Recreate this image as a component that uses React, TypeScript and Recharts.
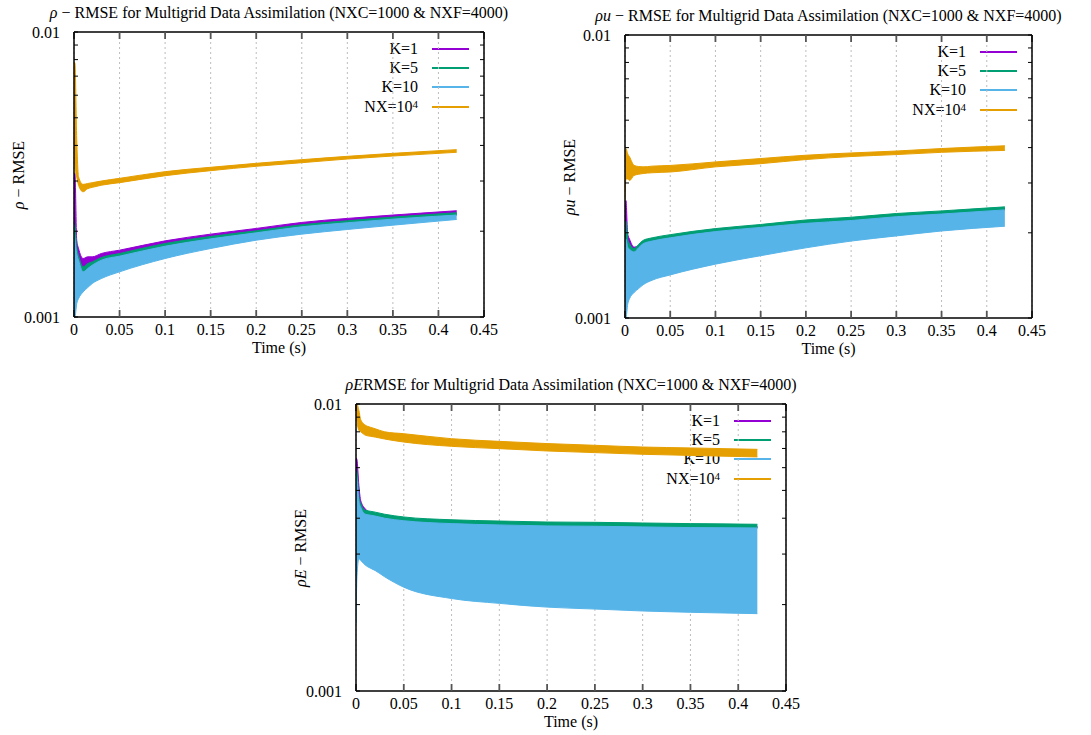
import React from 'react';
import { Area, CartesianGrid, ComposedChart, XAxis, YAxis } from 'recharts';

const FONT = "'Liberation Serif', 'DejaVu Serif', serif";

const PURPLE = '#9400d3';
const GREEN = '#009e73';
const BLUE = '#56b4e9';
const ORANGE = '#e69f00';

// sample times (s) where the envelopes were read
const TIME = [0, 0.001, 0.003, 0.005, 0.01, 0.015, 0.02, 0.03, 0.05, 0.1, 0.15, 0.2, 0.25, 0.3, 0.35, 0.42];

const X_TICKS = [0, 0.05, 0.1, 0.15, 0.2, 0.25, 0.3, 0.35, 0.4, 0.45];
const Y_TICKS = [0.001, 0.002, 0.003, 0.004, 0.005, 0.006, 0.007, 0.008, 0.009, 0.01];
const Y_LABELED = [0.001, 0.01];

// rho - RMSE (upper / lower edges of each band)
const RHO_K1_HI = [0.003, 0.00319, 0.00186, 0.001739, 0.001604, 0.001626, 0.001626, 0.00167, 0.001716, 0.00185, 0.001953, 0.002045, 0.002147, 0.002218, 0.002279, 0.00236];
const RHO_K5_HI = [0.0022, 0.0021, 0.001763, 0.001648, 0.0015, 0.00154, 0.001561, 0.001617, 0.00167, 0.001811, 0.001917, 0.002006, 0.002107, 0.002176, 0.002241, 0.002322];
const RHO_K10_HI = [0.0021, 0.0019, 0.00167, 0.001582, 0.00144, 0.001479, 0.00152, 0.001582, 0.001635, 0.001772, 0.00188, 0.001974, 0.002073, 0.002141, 0.002205, 0.002279];
const RHO_K10_LO = [0.00105, 0.001, 0.001114, 0.00116, 0.001224, 0.001268, 0.00131, 0.001364, 0.00144, 0.001604, 0.001739, 0.00186, 0.001953, 0.002028, 0.0021, 0.002199];
const RHO_NX_LO = [0.0068, 0.0034, 0.0031, 0.0029, 0.00275, 0.00282, 0.00285, 0.0029, 0.00296, 0.003132, 0.003262, 0.003379, 0.003479, 0.003584, 0.003672, 0.003784];
const RHO_NX_HI = [0.0078, 0.0078, 0.0042, 0.0031, 0.00292, 0.00294, 0.00296, 0.003, 0.003065, 0.003236, 0.003352, 0.003461, 0.003565, 0.003662, 0.003752, 0.003866];

// rho*u - RMSE
const RHOU_K1_HI = [0.0022, 0.0026, 0.00198, 0.0019, 0.00178, 0.0018, 0.00186, 0.0019, 0.00195, 0.00205, 0.00212, 0.00219, 0.00224, 0.00231, 0.00236, 0.00244];
const RHOU_K5_HI = [0.0021, 0.0022, 0.0019, 0.00183, 0.00176, 0.00182, 0.00188, 0.00192, 0.00197, 0.00207, 0.00214, 0.00222, 0.00227, 0.00234, 0.00239, 0.00247];
const RHOU_K10_HI = [0.0019, 0.0019, 0.00178, 0.00175, 0.00171, 0.00177, 0.00183, 0.00187, 0.00192, 0.00202, 0.00209, 0.00216, 0.00221, 0.00228, 0.00233, 0.00241];
const RHOU_K10_LO = [0.0011, 0.001, 0.00112, 0.00117, 0.00123, 0.00127, 0.00131, 0.00136, 0.00142, 0.00155, 0.00166, 0.00177, 0.00187, 0.00195, 0.00203, 0.00211];
const RHOU_NX_LO = [0.0026, 0.0031, 0.0031, 0.00306, 0.00319, 0.00322, 0.00324, 0.00326, 0.00328, 0.00342, 0.00351, 0.00363, 0.00372, 0.00378, 0.00385, 0.00391];
const RHOU_NX_HI = [0.0028, 0.00397, 0.0038, 0.00371, 0.00346, 0.00343, 0.00342, 0.00344, 0.00346, 0.00356, 0.00366, 0.00376, 0.00383, 0.00389, 0.00397, 0.00406];

// rho*E - RMSE
const RHOE_K1_HI = [0.0065, 0.0064, 0.0052, 0.0046, 0.0043, 0.00418, 0.00414, 0.00407, 0.00398, 0.00389, 0.00385, 0.00382, 0.00381, 0.00379, 0.00377, 0.00375];
const RHOE_K5_HI = [0.006, 0.0058, 0.0048, 0.0045, 0.00426, 0.00423, 0.0042, 0.00413, 0.00404, 0.00395, 0.00391, 0.00388, 0.00387, 0.00385, 0.00383, 0.00381];
const RHOE_K10_HI = [0.0058, 0.0055, 0.0046, 0.00436, 0.00413, 0.0041, 0.00407, 0.004, 0.00392, 0.00383, 0.00379, 0.00376, 0.00375, 0.00373, 0.00371, 0.0037];
const RHOE_K10_LO = [0.00172, 0.0025, 0.00289, 0.00285, 0.00274, 0.00268, 0.00263, 0.0025, 0.0023, 0.0021, 0.00202, 0.00196, 0.00193, 0.0019, 0.00188, 0.00186];
const RHOE_NX_LO = [0.0098, 0.0088, 0.0081, 0.008, 0.00778, 0.00772, 0.00767, 0.00755, 0.00737, 0.00712, 0.00699, 0.00686, 0.00677, 0.00668, 0.00662, 0.00654];
const RHOE_NX_HI = [0.01, 0.01, 0.0095, 0.0088, 0.00843, 0.0083, 0.0082, 0.008, 0.00788, 0.00757, 0.00741, 0.00728, 0.00718, 0.00708, 0.00703, 0.00695];

function buildRows(k1Hi: number[], k5Hi: number[], k10Hi: number[], k10Lo: number[], nxLo: number[], nxHi: number[]) {
    return TIME.map((t, i) => ({
        t,
        k1: [k10Hi[i], k1Hi[i]],
        k5: [k10Hi[i], k5Hi[i]],
        k10: [k10Lo[i], k10Hi[i]],
        nx: [nxLo[i], nxHi[i]],
    }));
}

const LEGEND = [
    { label: <>K=1</>, color: PURPLE },
    { label: <>K=5</>, color: GREEN },
    { label: <>K=10</>, color: BLUE },
    { label: <>NX=10<sup style={{ fontSize: 11, verticalAlign: 'top', lineHeight: 1 }}>4</sup></>, color: ORANGE },
];

interface PanelProps {
    x: number;
    y: number;
    w: number;
    h: number;
    title: React.ReactNode;
    yLabel: React.ReactNode;
    rows: ReturnType<typeof buildRows>;
}

function Panel({ x, y, w, h, title, yLabel, rows }: PanelProps) {
    const text = { position: 'absolute' as const, whiteSpace: 'nowrap' as const, fontSize: 16, lineHeight: 1 };
    return (
        <>
            {/* key sits under the curves, like gnuplot */}
            {LEGEND.map((item, i) => (
                <div key={i}>
                    <div style={{ ...text, right: 1091 - (x + w - 66), top: y + 17 + i * 19.2, transform: 'translateY(-50%)' }}>
                        {item.label}
                    </div>
                    <div style={{ position: 'absolute', left: x + w - 52, width: 37, top: Math.round(y + 16 + i * 19.2), height: 2, background: item.color }} />
                </div>
            ))}
            <div style={{ position: 'absolute', left: x - 74, top: y - 32 }}>
                <ComposedChart
                    width={w + 74 + 61}
                    height={h + 32 + 48}
                    data={rows}
                    margin={{ top: 31, right: 60, bottom: 18, left: 14 }}
                >
                    <CartesianGrid horizontal={false} stroke='#bdbdbd' strokeDasharray='2 3' />
                    <XAxis
                        dataKey='t'
                        type='number'
                        domain={[0, 0.45]}
                        ticks={X_TICKS}
                        interval={0}
                        height={30}
                        tickSize={-7}
                        tickMargin={14}
                        axisLine={{ stroke: '#000', strokeWidth: 1.5 }}
                        tickLine={{ stroke: '#555', strokeWidth: 1.8 }}
                        tick={{ fontSize: 16, fill: '#000' }}
                        allowDataOverflow
                    />
                    <XAxis
                        xAxisId='top'
                        dataKey='t'
                        orientation='top'
                        type='number'
                        domain={[0, 0.45]}
                        ticks={X_TICKS}
                        interval={0}
                        height={1}
                        tickSize={-7}
                        tickFormatter={() => ''}
                        axisLine={{ stroke: '#000', strokeWidth: 1.5 }}
                        tickLine={{ stroke: '#555', strokeWidth: 1.8 }}
                        allowDataOverflow
                    />
                    <YAxis
                        type='number'
                        scale='log'
                        domain={[0.001, 0.01]}
                        ticks={Y_TICKS}
                        interval={0}
                        width={60}
                        tickSize={-4}
                        tickMargin={18}
                        tickFormatter={(v: number) => (Y_LABELED.includes(v) ? String(v) : '')}
                        axisLine={{ stroke: '#000', strokeWidth: 1.5 }}
                        tickLine={{ stroke: '#000' }}
                        tick={{ fontSize: 16, fill: '#000' }}
                        allowDataOverflow
                    />
                    <YAxis
                        yAxisId='right'
                        orientation='right'
                        type='number'
                        scale='log'
                        domain={[0.001, 0.01]}
                        ticks={Y_TICKS}
                        interval={0}
                        width={1}
                        tickSize={-4}
                        tickFormatter={() => ''}
                        axisLine={{ stroke: '#000', strokeWidth: 1.5 }}
                        tickLine={{ stroke: '#000' }}
                        allowDataOverflow
                    />
                    <Area type='monotone' dataKey='k1' stroke={PURPLE} fill={PURPLE} fillOpacity={1} strokeWidth={1} dot={false} activeDot={false} isAnimationActive={false} />
                    <Area type='monotone' dataKey='k5' stroke={GREEN} fill={GREEN} fillOpacity={1} strokeWidth={1} dot={false} activeDot={false} isAnimationActive={false} />
                    <Area type='monotone' dataKey='k10' stroke={BLUE} fill={BLUE} fillOpacity={1} strokeWidth={1} dot={false} activeDot={false} isAnimationActive={false} />
                    <Area type='monotone' dataKey='nx' stroke={ORANGE} fill={ORANGE} fillOpacity={1} strokeWidth={1} dot={false} activeDot={false} isAnimationActive={false} />
                </ComposedChart>
            </div>
            <div style={{ ...text, left: x + w / 2, top: y - 19, transform: 'translate(-50%, -50%)' }}>{title}</div>
            <div style={{ ...text, left: x - 55, top: y + h / 2, transform: 'translate(-50%, -50%) rotate(-90deg)' }}>{yLabel}</div>
            <div style={{ ...text, left: x + w / 2, top: y + h + 31, transform: 'translate(-50%, -50%)' }}>Time (s)</div>
        </>
    );
}

const tail = ' for Multigrid Data Assimilation (NXC=1000 & NXF=4000)';

export default function App() {
    return (
        <div style={{ position: 'absolute', left: 0, top: 0, width: 1091, height: 735, background: '#fff', fontFamily: FONT, color: '#000', overflow: 'hidden' }}>
            <Panel
                x={74} y={32} w={410} h={285}
                title={<><i>ρ</i> − RMSE{tail}</>}
                yLabel={<><i>ρ</i> − RMSE</>}
                rows={buildRows(RHO_K1_HI, RHO_K5_HI, RHO_K10_HI, RHO_K10_LO, RHO_NX_LO, RHO_NX_HI)}
            />
            <Panel
                x={625} y={35} w={407} h={283}
                title={<><i>ρu</i> − RMSE{tail}</>}
                yLabel={<><i>ρu</i> − RMSE</>}
                rows={buildRows(RHOU_K1_HI, RHOU_K5_HI, RHOU_K10_HI, RHOU_K10_LO, RHOU_NX_LO, RHOU_NX_HI)}
            />
            <Panel
                x={356} y={404} w={430} h={287}
                title={<><i>ρE</i>RMSE{tail}</>}
                yLabel={<><i>ρE</i> − RMSE</>}
                rows={buildRows(RHOE_K1_HI, RHOE_K5_HI, RHOE_K10_HI, RHOE_K10_LO, RHOE_NX_LO, RHOE_NX_HI)}
            />
        </div>
    );
}
